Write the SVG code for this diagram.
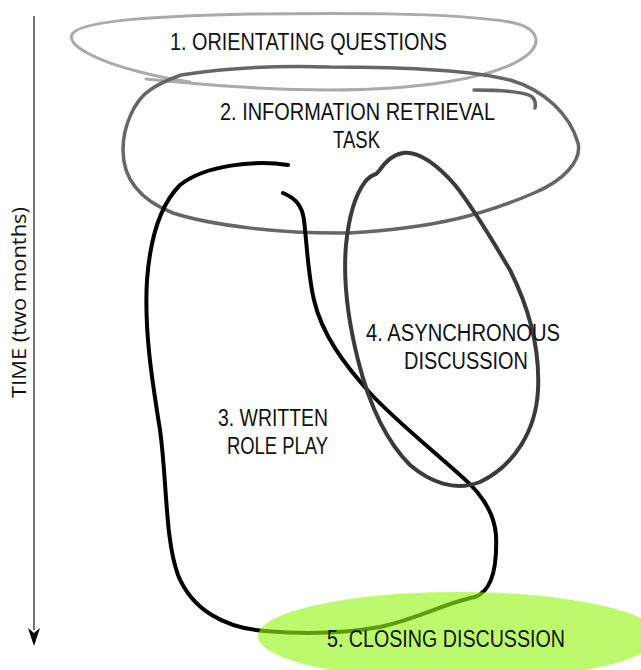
<svg xmlns="http://www.w3.org/2000/svg" width="641" height="670" viewBox="0 0 641 670">
<defs>
<style>
.lbl{font-family:"Liberation Sans",Arial,sans-serif;font-size:23px;fill:#111;}
.axis-lbl{font-family:"Open Sans","Liberation Sans",sans-serif;font-size:20px;fill:#111;}
.loop{fill:none;stroke-linecap:round;stroke-linejoin:round;}
</style>
</defs>
<rect width="641" height="670" fill="#fff"/>

<g id="axis">
<line x1="34" y1="16" x2="34" y2="630" stroke="#444" stroke-width="1.5"/>
<path d="M28,628 L34,633 L40,628 L34,646 Z" fill="#000"/>
<text class="axis-lbl" transform="translate(26,398) rotate(-90)" textLength="191" lengthAdjust="spacingAndGlyphs">TIME (two months)</text>
</g>

<g id="node1">
<path class="loop" stroke="#aaaaaa" stroke-width="3" d="M146,79 C200,84 260,90 330,90 C420,90 490,78 520,60 C545,45 540,28 510,22 C450,12 330,13 250,14 C160,16 85,20 73,33 C63,45 100,62 140,72 C160,77 175,80 190,82"/>
<text class="lbl" x="170" y="50" textLength="277" lengthAdjust="spacingAndGlyphs">1. ORIENTATING QUESTIONS</text>
</g>

<g id="node2">
<path class="loop" stroke="#666666" stroke-width="3.5" d="M181,75 C240,66 300,66 329,67 C400,67 470,70 510,80 C545,90 570,115 578,143 C582,160 565,180 534,193 C490,212 440,228 349,233 C280,234 210,225 173,213 C140,200 123,180 123,150 C123,125 135,100 150,90 C160,83 170,79 181,75 Z"/>
<path class="loop" stroke="#666666" stroke-width="3.5" d="M474,90 C500,90 522,92 531,96 C535,99 536,103 535,108"/>
<text class="lbl" x="220" y="120" textLength="275" lengthAdjust="spacingAndGlyphs">2. INFORMATION RETRIEVAL</text>
<text class="lbl" x="333" y="148" textLength="47" lengthAdjust="spacingAndGlyphs">TASK</text>
</g>

<g id="node3">
<path class="loop" stroke="#000" stroke-width="4" d="M288,165 C255,160 205,165 180,185 C160,205 150,240 147,280 C144,330 152,380 160,430 C167,480 165,540 178,575 C192,610 225,628 265,631 C300,634 340,634 380,627 C420,618 445,603 475,597 C495,590 497,560 496,535 C494,510 478,490 460,475 C430,448 395,420 370,393 C345,365 322,335 314,300 C308,275 307,245 304,220 C302,205 295,198 283,193"/>
<text class="lbl" x="218" y="426" textLength="110" lengthAdjust="spacingAndGlyphs">3. WRITTEN</text>
<text class="lbl" x="227" y="454" textLength="101" lengthAdjust="spacingAndGlyphs">ROLE PLAY</text>
</g>

<g id="node4">
<path class="loop" stroke="#3a3a3a" stroke-width="4" d="M379,171 C383,165 390,155 403,153 C420,151 440,168 455,185 C475,210 495,245 510,270 C530,310 540,350 538,390 C536,430 515,465 480,482 C455,492 430,482 410,465 C385,440 368,400 358,360 C348,320 343,280 346,245 C349,215 355,195 365,182 C369,177 372,175 376,174 Z"/>
<text class="lbl" x="366" y="341" textLength="194" lengthAdjust="spacingAndGlyphs">4. ASYNCHRONOUS</text>
<text class="lbl" x="404" y="369" textLength="124" lengthAdjust="spacingAndGlyphs">DISCUSSION</text>
</g>

<g id="node5">
<ellipse cx="458" cy="636" rx="200" ry="44" fill="rgb(150,245,22)" fill-opacity="0.63"/>
<text class="lbl" x="327" y="647" textLength="238" lengthAdjust="spacingAndGlyphs">5. CLOSING DISCUSSION</text>
</g>

<g id="connectors"></g>
</svg>
